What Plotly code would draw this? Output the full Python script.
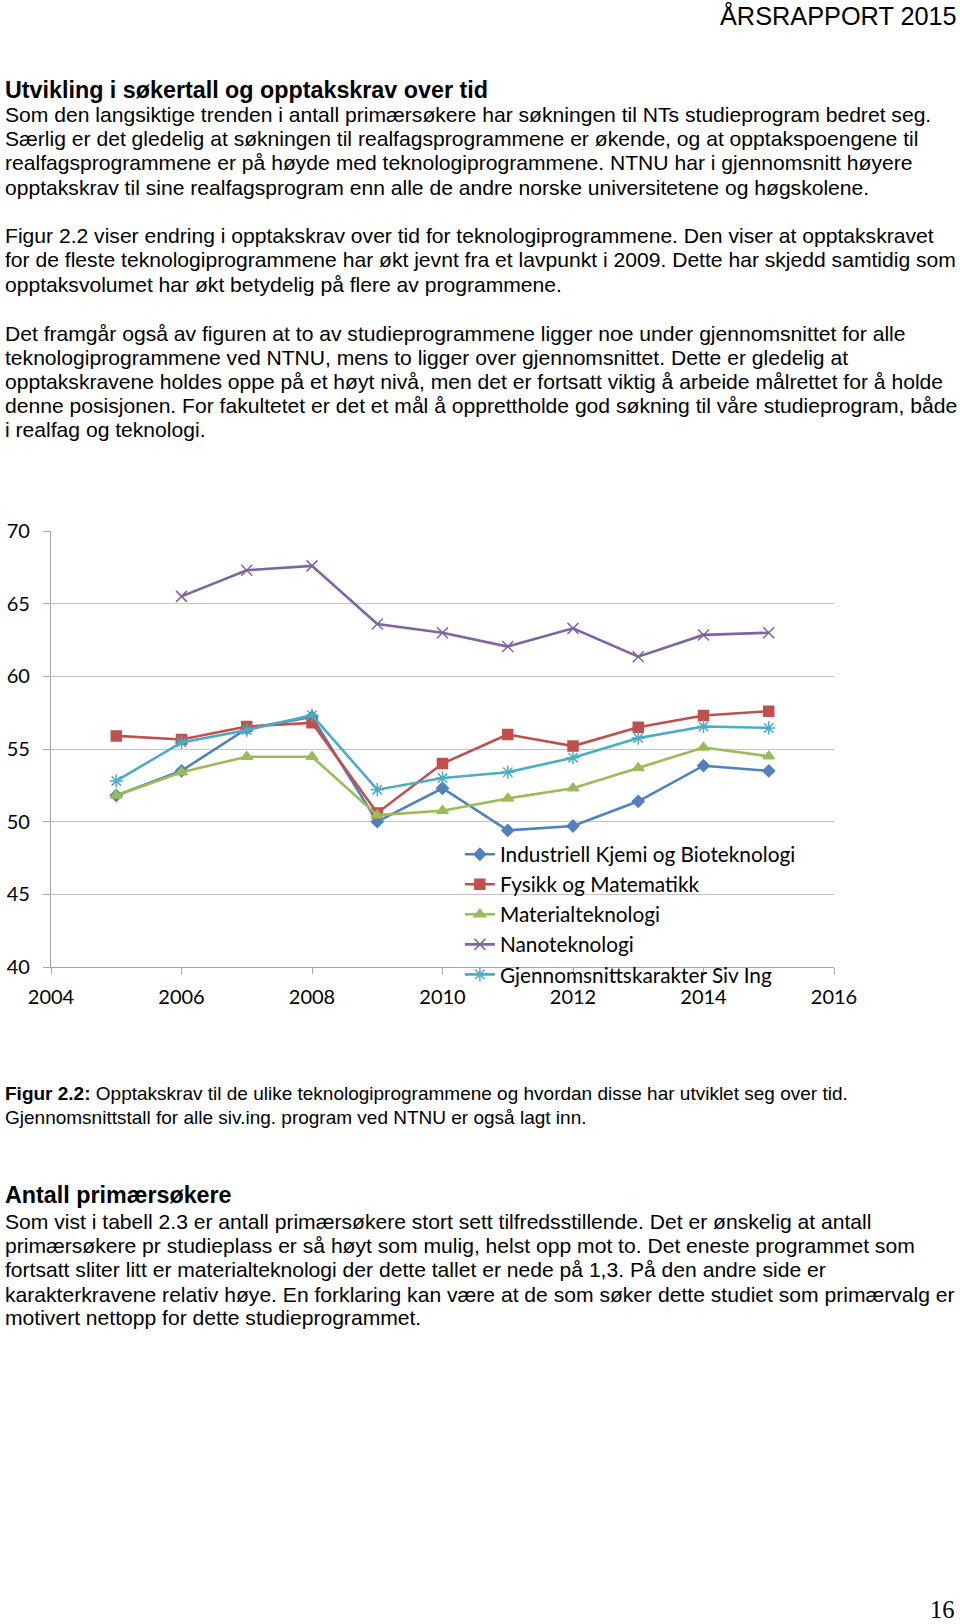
import plotly.graph_objects as go

years = [2005, 2006, 2007, 2008, 2009, 2010, 2011, 2012, 2013, 2014, 2015]
kjemi = [51.8, 53.5, 56.4, 57.2, 50.0, 52.3, 49.4, 49.7, 51.4, 53.85, 53.5]
fysikk = [55.9, 55.65, 56.55, 56.8, 50.6, 54.0, 56.0, 55.2, 56.5, 57.3, 57.6]
material = [51.8, 53.4, 54.47, 54.47, 50.45, 50.75, 51.6, 52.3, 53.7, 55.1, 54.5]
nano = [None, 65.5, 67.3, 67.6, 63.6, 63.0, 62.05, 63.3, 61.35, 62.85, 63.0]
snitt = [52.8, 55.45, 56.3, 57.33, 52.2, 53.0, 53.4, 54.4, 55.75, 56.55, 56.45]

series_names = ["Industriell Kjemi og Bioteknologi", "Fysikk og Matematikk",
                "Materialteknologi", "Nanoteknologi", "Gjennomsnittskarakter Siv Ing"]
series_values = [kjemi, fysikk, material, nano, snitt]
colors = ["#4F81BD", "#C0504D", "#9BBB59", "#8064A2", "#4BACC6"]
symbols = ["diamond", "square", "triangle-up", "x-thin-open", "asterisk-open"]
msizes = [9, 10, 10, 11, 11]

x_ticks = [2004, 2006, 2008, 2010, 2012, 2014, 2016]
y_ticks = [40, 45, 50, 55, 60, 65, 70]

header = "ÅRSRAPPORT 2015"
heading1 = "Utvikling i søkertall og opptakskrav over tid"
para1 = [
    "Som den langsiktige trenden i antall primærsøkere har søkningen til NTs studieprogram bedret seg.",
    "Særlig er det gledelig at søkningen til realfagsprogrammene er økende, og at opptakspoengene til",
    "realfagsprogrammene er på høyde med teknologiprogrammene. NTNU har i gjennomsnitt høyere",
    "opptakskrav til sine realfagsprogram enn alle de andre norske universitetene og høgskolene.",
]
para2 = [
    "Figur 2.2 viser endring i opptakskrav over tid for teknologiprogrammene. Den viser at opptakskravet",
    "for de fleste teknologiprogrammene har økt jevnt fra et lavpunkt i 2009. Dette har skjedd samtidig som",
    "opptaksvolumet har økt betydelig på flere av programmene.",
]
para3 = [
    "Det framgår også av figuren at to av studieprogrammene ligger noe under gjennomsnittet for alle",
    "teknologiprogrammene ved NTNU, mens to ligger over gjennomsnittet. Dette er gledelig at",
    "opptakskravene holdes oppe på et høyt nivå, men det er fortsatt viktig å arbeide målrettet for å holde",
    "denne posisjonen. For fakultetet er det et mål å opprettholde god søkning til våre studieprogram, både",
    "i realfag og teknologi.",
]
caption = [
    "<b>Figur 2.2:</b> Opptakskrav til de ulike teknologiprogrammene og hvordan disse har utviklet seg over tid.",
    "Gjennomsnittstall for alle siv.ing. program ved NTNU er også lagt inn.",
]
heading2 = "Antall primærsøkere"
para4 = [
    "Som vist i tabell 2.3 er antall primærsøkere stort sett tilfredsstillende. Det er ønskelig at antall",
    "primærsøkere pr studieplass er så høyt som mulig, helst opp mot to. Det eneste programmet som",
    "fortsatt sliter litt er materialteknologi der dette tallet er nede på 1,3. På den andre side er",
    "karakterkravene relativ høye. En forklaring kan være at de som søker dette studiet som primærvalg er",
    "motivert nettopp for dette studieprogrammet.",
]
page_no = "16"

W, H = 960, 1624
L, R, T, B = 50.7, 125.5, 531, 657.3
PW = W - L - R
PH = H - T - B


def px(xp):
    return (xp - L) / PW


def py(yp):
    return (H - B - yp) / PH


fig = go.Figure()
for name, vals, c, s, ms in zip(series_names, series_values, colors, symbols, msizes):
    fig.add_trace(go.Scatter(
        x=years, y=vals, name=name, mode="lines+markers",
        line=dict(color=c, width=2.6),
        marker=dict(symbol=s, size=ms, color=c, line=dict(color=c, width=1.5)),
        legendgroup=name,
    ))

anns = []
FAM = "Liberation Sans, Arial, sans-serif"
body_font = dict(family=FAM, size=21.1, color="#000000")
bold_font = dict(family=FAM, size=23.3, color="#000000")
cap_font = dict(family=FAM, size=19.0, color="#000000")


def add_line(text, x, y, font, xanchor="left"):
    anns.append(dict(text=text, x=px(x), y=py(y), xref="paper", yref="paper",
                     xanchor=xanchor, yanchor="middle", showarrow=False, font=font))


add_line(header, 960, 15.5, dict(family=FAM, size=25.3, color="#000000"), xanchor="right")
add_line("<b>" + heading1 + "</b>", 3, 90, bold_font)
for text, y in zip(para1, [115, 139, 163, 187.5]):
    add_line(text, 3, y, body_font)
for text, y in zip(para2, [236, 260, 285]):
    add_line(text, 3, y, body_font)
for text, y in zip(para3, [333.5, 357.5, 382, 406, 430]):
    add_line(text, 3, y, body_font)
for text, y in zip(caption, [1093.6, 1117.4]):
    add_line(text, 3, y, cap_font)
add_line("<b>" + heading2 + "</b>", 3, 1195, bold_font)
for text, y in zip(para4, [1221, 1245, 1269, 1293.5, 1317.3]):
    add_line(text, 3, y, body_font)
add_line(page_no, 958, 1608.5, dict(family="Liberation Serif, Times New Roman, serif", size=24.5, color="#000000"), xanchor="right")

chart_font = dict(family="Lato, sans-serif", size=20, color="#000000")
legend_font = dict(family="Lato, sans-serif", size=20.8, color="#000000")

fig.update_layout(
    width=W, height=H, autosize=False,
    margin=dict(l=L, r=R, t=T, b=B, pad=0),
    paper_bgcolor="white", plot_bgcolor="white",
    annotations=anns,
    showlegend=True,
    legend=dict(x=px(460), y=py(834), xanchor="left", yanchor="top",
                bgcolor="rgba(0,0,0,0)", font=legend_font, tracegroupgap=0,
                itemwidth=30),
    xaxis=dict(range=[2004, 2016], tickvals=x_ticks, ticktext=[str(v) for v in x_ticks],
               showgrid=False, zeroline=False, showline=True, linecolor="#A6A6A6", linewidth=1.3,
               ticks="outside", ticklen=6, tickcolor="#A6A6A6", tickfont=chart_font,
               ticklabelstandoff=6, automargin=False),
    yaxis=dict(range=[40, 70], tickvals=y_ticks, ticktext=[str(v) for v in y_ticks],
               showgrid=True, gridcolor="#C4C4C4", gridwidth=1.3, zeroline=False,
               showline=True, linecolor="#A6A6A6", linewidth=1.3,
               ticks="outside", ticklen=7, tickcolor="#A6A6A6", tickfont=chart_font,
               ticklabelstandoff=9, automargin=False),
)

fig.write_html("out.html", config={"displayModeBar": False},
               post_script="document.body.style.margin='0';")
